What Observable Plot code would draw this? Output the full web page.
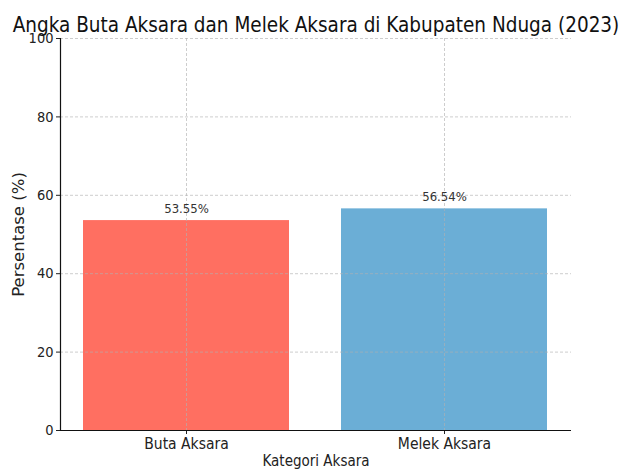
<!DOCTYPE html>
<html><head><meta charset="utf-8">
<script src="https://cdn.jsdelivr.net/npm/d3@7"></script>
<script src="https://cdn.jsdelivr.net/npm/@observablehq/plot@0.6"></script>
<style>
body{margin:0;background:#fff;}
svg{font-family:"DejaVu Sans Condensed","DejaVu Sans",sans-serif;}
</style></head>
<body><div id="chart"></div>
<script>
const title = "Angka Buta Aksara dan Melek Aksara di Kabupaten Nduga (2023)";
const categories = ["Buta Aksara", "Melek Aksara"];
const values = [53.55, 56.54];
const colors = ["#FF6F61", "#6BAED6"];
const yTicks = [0, 20, 40, 60, 80, 100];
const xLabel = "Kategori Aksara";
const yLabel = "Persentase (%)";

const data = categories.map((c, i) => ({cat: c, val: values[i], color: colors[i]}));
const font = '"DejaVu Sans Condensed","DejaVu Sans",sans-serif';

const plot = Plot.plot({
  width: 619, height: 473,
  marginTop: 38, marginBottom: 43, marginLeft: 60, marginRight: 48,
  style: {fontFamily: font, fontSize: "14px", color: "#222", background: "#fff"},
  x: {domain: categories, paddingInner: 0.2, paddingOuter: 0.09, label: null},
  y: {domain: [0, 100], ticks: yTicks, label: null},
  marks: [
    Plot.barY(data, {x: "cat", y: "val", fill: "color"}),
    Plot.gridY(yTicks, {stroke: "#b0b0b0", strokeOpacity: 0.8, strokeDasharray: "3,2", strokeWidth: 0.8}),
    Plot.gridX(categories, {stroke: "#b0b0b0", strokeOpacity: 0.8, strokeDasharray: "3,2", strokeWidth: 0.8}),
    Plot.axisY(yTicks, {tickSize: 4, tickPadding: 3, fontSize: 14.5, label: null, fill: "#222"}),
    Plot.axisX(categories, {tickSize: 4, tickPadding: 3, fontSize: 15.5, label: null, fill: "#222"}),
    Plot.frame({anchor: "left", stroke: "#111", strokeWidth: 1.2}),
    Plot.ruleY([0], {stroke: "#111", strokeWidth: 1.2}),
    Plot.text(data, {x: "cat", y: "val", text: d => d.val.toFixed(2) + "%", dy: -12, fontSize: 13, fill: "#333"}),
    Plot.text([title], {frameAnchor: "top", dy: -21, fontSize: 20.5, fill: "#111"}),
    Plot.text([yLabel], {frameAnchor: "left", textAnchor: "middle", dx: -42, rotate: -90, fontSize: 16.5, fill: "#222", fontFamily: '"DejaVu Sans",sans-serif'}),
    Plot.text([xLabel], {frameAnchor: "bottom", dy: 35, fontSize: 15, fill: "#222"})
  ]
});
document.getElementById("chart").appendChild(plot);
</script>
</body></html>
